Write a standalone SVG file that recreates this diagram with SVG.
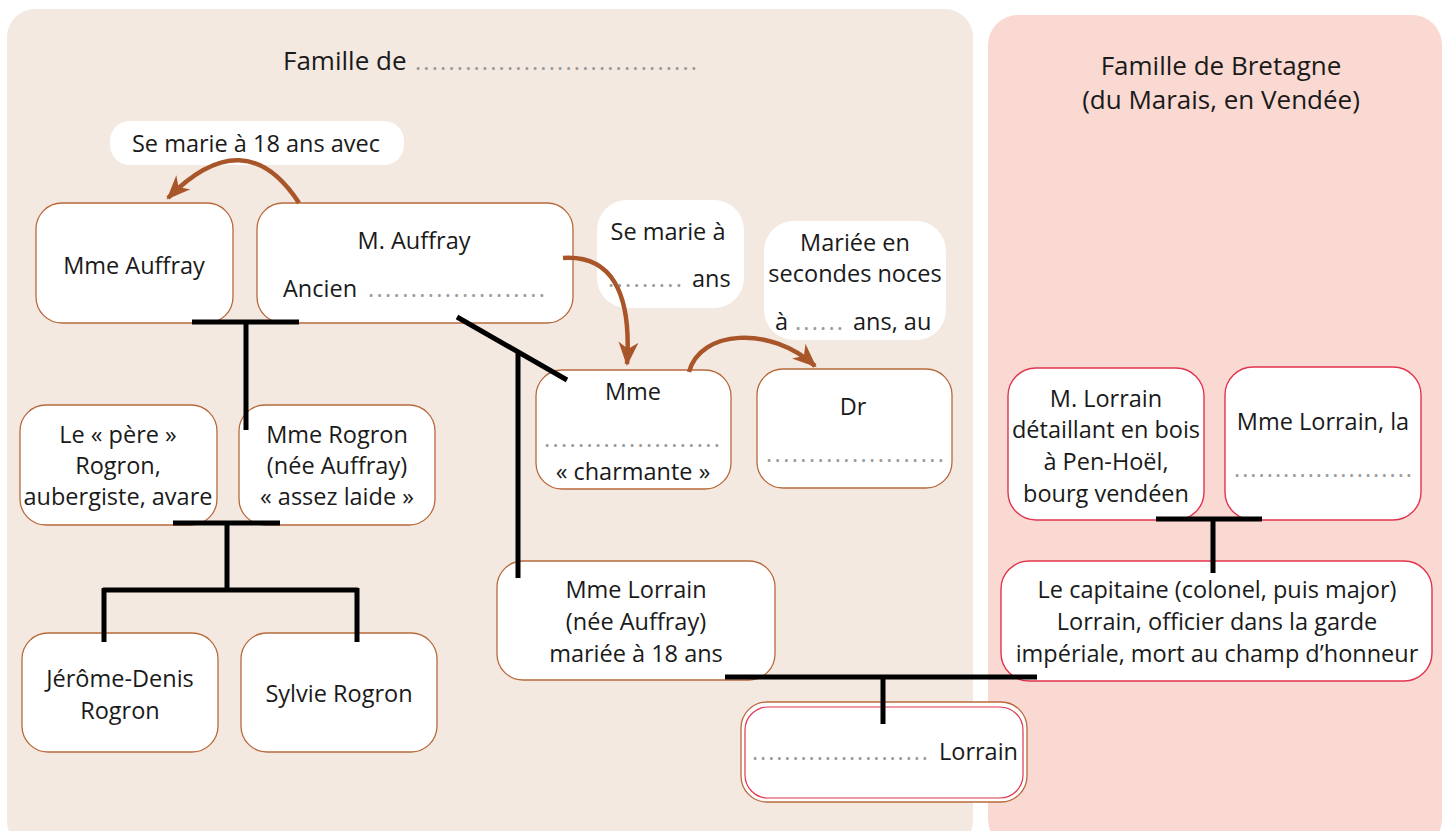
<svg xmlns="http://www.w3.org/2000/svg" width="1449" height="831" viewBox="0 0 1449 831">
<style>
text{font-family:"Open Sans","Noto Sans","Liberation Sans",sans-serif;font-size:23.5px;fill:#1a1a1a}
.c{text-anchor:middle}
.t{font-size:26px;font-weight:500}
.d{fill:#9a9a9a}
.nb{fill:#fff;stroke:#b8693c;stroke-width:1.3}
.nr{fill:#fff;stroke:#e2344e;stroke-width:1.4}
.lb{fill:#fff}
.k{stroke:#000;stroke-width:5;fill:none}
.a{stroke:#a9552a;stroke-width:4.5;fill:none;marker-end:url(#ah)}
</style>
<defs>
<marker id="ah" markerUnits="userSpaceOnUse" markerWidth="26" markerHeight="20" refX="22" refY="10" orient="auto" viewBox="0 0 26 20">
<path d="M0,0 L24,10 L0,20 L7,10 Z" fill="#a9552a"/>
</marker>
</defs>
<g id="panels">
<rect x="7" y="9" width="966" height="840" rx="28" fill="#f4e9e0"/>
<rect x="988" y="15" width="454" height="834" rx="30" fill="#f9d9d1"/>
<text x="283" y="70" class="t">Famille de</text>
<text x="415" y="70" class="d" textLength="282" lengthAdjust="spacing">..................................</text>
<text x="1221" y="75" class="c t">Famille de Bretagne</text>
<text x="1221" y="109" class="c t">(du Marais, en Vendée)</text>
</g>
<g id="label-se-marie-18">
<rect x="110" y="121" width="294" height="44" rx="20" class="lb"/>
<text x="256" y="152" class="c">Se marie à 18 ans avec</text>
</g>
<g id="label-se-marie-ans">
<rect x="597" y="200" width="147" height="108" rx="30" class="lb"/>
<text x="668" y="240" class="c">Se marie à</text>
<text x="608" y="287" class="d" textLength="74" lengthAdjust="spacing">.........</text>
<text x="692" y="287">ans</text>
</g>
<g id="label-mariee">
<rect x="764" y="221" width="182" height="119" rx="30" class="lb"/>
<text x="855" y="251" class="c">Mariée en</text>
<text x="855" y="282" class="c">secondes noces</text>
<text x="775" y="330">à</text>
<text x="795" y="330" class="d" textLength="48" lengthAdjust="spacing">......</text>
<text x="853" y="330">ans, au</text>
</g>
<g id="mme-auffray">
<rect x="36" y="203" width="197" height="120" rx="26" class="nb"/>
<text x="134" y="274" class="c">Mme Auffray</text>
</g>
<g id="m-auffray">
<rect x="257" y="203" width="316" height="120" rx="26" class="nb"/>
<text x="414" y="249" class="c">M. Auffray</text>
<text x="283" y="297">Ancien</text>
<text x="368" y="297" class="d" textLength="177" lengthAdjust="spacing">.....................</text>
</g>
<g id="mme-charmante">
<rect x="536" y="370" width="195" height="119" rx="26" class="nb"/>
<text x="633" y="400" class="c">Mme</text>
<text x="544" y="447" class="d" textLength="176" lengthAdjust="spacing">.....................</text>
<text x="633" y="480" class="c">« charmante »</text>
</g>
<g id="dr">
<rect x="757" y="369" width="195" height="119" rx="26" class="nb"/>
<text x="853" y="415" class="c">Dr</text>
<text x="766" y="462" class="d" textLength="178" lengthAdjust="spacing">.....................</text>
</g>
<g id="pere-rogron">
<rect x="20" y="405" width="197" height="120" rx="26" class="nb"/>
<text x="118" y="443" class="c">Le « père »</text>
<text x="118" y="474" class="c">Rogron,</text>
<text x="118" y="505" class="c">aubergiste, avare</text>
</g>
<g id="mme-rogron">
<rect x="239" y="405" width="196" height="120" rx="26" class="nb"/>
<text x="337" y="443" class="c">Mme Rogron</text>
<text x="337" y="474" class="c">(née Auffray)</text>
<text x="337" y="505" class="c">« assez laide »</text>
</g>
<g id="jerome-denis">
<rect x="22" y="633" width="196" height="119" rx="26" class="nb"/>
<text x="120" y="687" class="c">Jérôme-Denis</text>
<text x="120" y="719" class="c">Rogron</text>
</g>
<g id="sylvie">
<rect x="241" y="633" width="196" height="119" rx="26" class="nb"/>
<text x="339" y="702" class="c">Sylvie Rogron</text>
</g>
<g id="mme-lorrain-auffray">
<rect x="497" y="561" width="278" height="119" rx="26" class="nb"/>
<text x="636" y="598" class="c">Mme Lorrain</text>
<text x="636" y="630" class="c">(née Auffray)</text>
<text x="636" y="662" class="c">mariée à 18 ans</text>
</g>
<g id="enfant-lorrain">
<rect x="741" y="702" width="286" height="100" rx="26" class="nb"/>
<rect x="745" y="707" width="278" height="91" rx="23" fill="none" stroke="#e2344e" stroke-width="1.2"/>
<text x="752" y="760" class="d" textLength="176" lengthAdjust="spacing">......................</text>
<text x="939" y="760">Lorrain</text>
</g>
<g id="m-lorrain">
<rect x="1008" y="368" width="196" height="152" rx="28" class="nr"/>
<text x="1106" y="407" class="c">M. Lorrain</text>
<text x="1106" y="438" class="c">détaillant en bois</text>
<text x="1106" y="470" class="c">à Pen-Hoël,</text>
<text x="1106" y="502" class="c">bourg vendéen</text>
</g>
<g id="mme-lorrain-la">
<rect x="1225" y="367" width="196" height="153" rx="28" class="nr"/>
<text x="1323" y="430" class="c">Mme Lorrain, la</text>
<text x="1234" y="477" class="d" textLength="178" lengthAdjust="spacing">......................</text>
</g>
<g id="capitaine">
<rect x="1001" y="561" width="431" height="120" rx="28" class="nr"/>
<text x="1217" y="598" class="c">Le capitaine (colonel, puis major)</text>
<text x="1217" y="630" class="c">Lorrain, officier dans la garde</text>
<text x="1217" y="662" class="c">impériale, mort au champ d’honneur</text>
</g>
<g id="connectors">
<path class="k" d="M192,322 H299 M246,322 V430"/>
<path class="k" d="M457,317 L567,380 M518,351 V578"/>
<path class="k" d="M173,523 H280 M227,523 V588 M103,590 H358 M104,588 V642 M357,588 V642"/>
<path class="k" d="M725,677 H1037 M883,677 V724"/>
<path class="k" d="M1156,519 H1262 M1213,519 V573"/>
<path class="a" d="M299,203 Q245,120 168,198"/>
<path class="a" d="M563,258 C610,255 632,290 627,364"/>
<path class="a" d="M689,372 C700,330 770,325 815,366"/>
</g>
</svg>
